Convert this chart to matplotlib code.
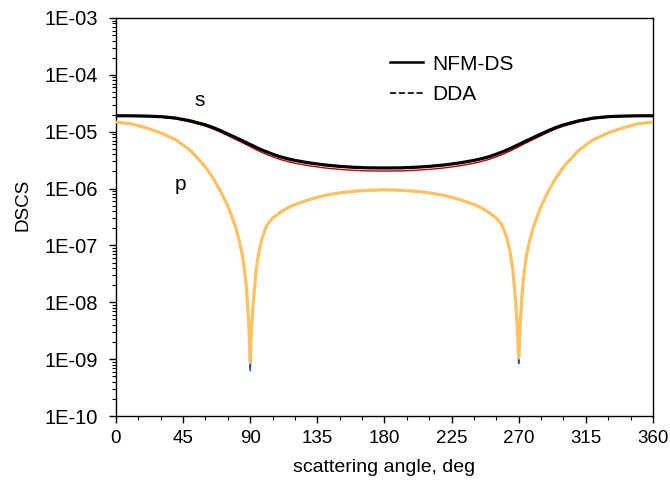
import numpy as np
import matplotlib
matplotlib.use('Agg')
import matplotlib.pyplot as plt
import matplotlib.ticker as mtick
from matplotlib.lines import Line2D

plt.rcParams['font.family'] = ['Liberation Sans', 'DejaVu Sans']

# scattering angle grid (deg), denser near the p minima
angle = [0, 10, 20, 30, 40, 50, 60, 65, 70, 75, 80, 83, 85, 87, 88, 89, 89.5, 90, 90.5, 91,
         92, 94, 96, 98, 100, 102, 105, 110, 115, 120, 130, 140, 150, 160, 170, 180,
         190, 200, 210, 220, 230, 240, 245, 250, 255, 258, 260, 262, 264, 266, 268, 269,
         269.5, 270, 270.5, 271, 272, 273, 275, 277, 280, 285, 290, 295, 300, 310, 320,
         330, 340, 350, 360]

# DSCS, stored as log10 values
log_s_nfm = [-4.72, -4.72, -4.725, -4.735, -4.76, -4.81, -4.88, -4.925, -4.98, -5.04, -5.10,
             -5.137, -5.162, -5.187, -5.20, -5.212, -5.218, -5.225, -5.231, -5.237, -5.25,
             -5.275, -5.30, -5.322, -5.345, -5.365, -5.395, -5.44, -5.475, -5.505, -5.55,
             -5.585, -5.61, -5.627, -5.636, -5.638,
             -5.636, -5.627, -5.61, -5.585, -5.55, -5.505, -5.475, -5.44, -5.395, -5.365,
             -5.345, -5.322, -5.30, -5.275, -5.25, -5.237, -5.231, -5.225, -5.218, -5.212,
             -5.20, -5.187, -5.162, -5.137, -5.10, -5.04, -4.98, -4.925, -4.88, -4.81, -4.76,
             -4.735, -4.725, -4.72, -4.72]

log_s_dda = [-4.727, -4.727, -4.733, -4.745, -4.773, -4.828, -4.902, -4.95, -5.007, -5.07,
             -5.133, -5.171, -5.197, -5.223, -5.237, -5.25, -5.256, -5.263, -5.27, -5.276,
             -5.29, -5.316, -5.342, -5.365, -5.389, -5.41, -5.441, -5.487, -5.523, -5.555,
             -5.601, -5.637, -5.663, -5.68, -5.69, -5.692,
             -5.69, -5.68, -5.663, -5.637, -5.601, -5.555, -5.523, -5.487, -5.441, -5.41,
             -5.389, -5.365, -5.342, -5.316, -5.29, -5.276, -5.27, -5.263, -5.256, -5.25,
             -5.237, -5.223, -5.197, -5.171, -5.133, -5.07, -5.007, -4.95, -4.902, -4.828,
             -4.773, -4.745, -4.733, -4.727, -4.727]

log_p_nfm = [-4.83, -4.86, -4.93, -5.02, -5.14, -5.33, -5.62, -5.81, -6.04, -6.31, -6.66,
             -6.95, -7.20, -7.62, -7.95, -8.38, -8.68, -9.05, -8.70, -8.42, -8.0, -7.42,
             -7.08, -6.87, -6.72, -6.61, -6.52, -6.42, -6.34, -6.28, -6.19, -6.12, -6.075,
             -6.045, -6.028, -6.022,
             -6.028, -6.045, -6.075, -6.12, -6.19, -6.28, -6.34, -6.42, -6.52, -6.61, -6.72,
             -6.87, -7.08, -7.42, -8.0, -8.42, -8.70, -8.98, -8.68, -8.38, -7.95, -7.62,
             -7.20, -6.95, -6.66, -6.31, -6.04, -5.81, -5.62, -5.33, -5.14, -5.02, -4.93,
             -4.86, -4.83]

log_p_dda = [-4.835, -4.865, -4.935, -5.025, -5.145, -5.335, -5.625, -5.815, -6.045, -6.315,
             -6.665, -6.955, -7.205, -7.625, -7.955, -8.39, -8.70, -9.20, -8.72, -8.43, -8.01,
             -7.425, -7.085, -6.875, -6.725, -6.615, -6.525, -6.425, -6.345, -6.285, -6.195,
             -6.125, -6.08, -6.05, -6.033, -6.027,
             -6.033, -6.05, -6.08, -6.125, -6.195, -6.285, -6.345, -6.425, -6.525, -6.615,
             -6.725, -6.875, -7.085, -7.425, -8.01, -8.43, -8.72, -9.10, -8.70, -8.39, -7.955,
             -7.625, -7.205, -6.955, -6.665, -6.315, -6.045, -5.815, -5.625, -5.335, -5.145,
             -5.025, -4.935, -4.865, -4.835]

fig = plt.figure(figsize=(6.7, 4.86), dpi=100)
ax = fig.add_axes([0.1731, 0.144, 0.8015, 0.819])

ax.plot(angle, np.power(10.0, log_p_dda), color='#1f4fd0', lw=1.2, ls='--', zorder=2)
ax.plot(angle, np.power(10.0, log_p_nfm), color='#ffc060', lw=2.3, zorder=3)
ax.plot(angle, np.power(10.0, log_s_dda), color='#c00000', lw=1.0, zorder=4)
ax.plot(angle, np.power(10.0, log_s_nfm), color='black', lw=2.3, zorder=5)

ax.set_yscale('log')
ax.set_xlim(0, 360)
ax.set_ylim(1e-10, 1e-3)
ax.set_xticks(range(0, 361, 45))
ax.xaxis.set_minor_locator(mtick.MultipleLocator(15))
ax.yaxis.set_major_locator(mtick.LogLocator(base=10, numticks=20))
ax.yaxis.set_minor_locator(mtick.LogLocator(base=10, subs=np.arange(2, 10), numticks=20))
ax.yaxis.set_minor_formatter(mtick.NullFormatter())
ax.yaxis.set_major_formatter(mtick.FuncFormatter(lambda v, _: f'1E-{int(round(-np.log10(v))):02d}'))

ax.tick_params(which='major', direction='out', length=5, width=1, top=False, right=False)
ax.tick_params(which='minor', direction='out', length=3, width=0.8, top=False, right=False)
ax.tick_params(axis='x', which='major', labelsize=13.5, pad=5)
ax.tick_params(axis='y', which='major', labelsize=14.5, pad=8)
for sp in ax.spines.values():
    sp.set_linewidth(1)

ax.set_xlabel('scattering angle, deg', fontsize=14, labelpad=9)
ax.set_ylabel('DSCS', fontsize=13.5)
ax.yaxis.set_label_coords(-0.158, 0.53)

ax.text(56, 3.6e-5, 's', fontsize=15, ha='center', va='center')
ax.text(43, 1.2e-6, 'p', fontsize=15, ha='center', va='center')

handles = [Line2D([], [], color='black', lw=1.8),
           Line2D([], [], color='black', lw=1.2, ls='--')]
ax.legend(handles, ['NFM-DS', 'DDA'], loc='upper left', bbox_to_anchor=(0.475, 0.955),
          frameon=False, fontsize=15, handlelength=1.6, handletextpad=0.45, labelspacing=0.55)

fig.savefig('out.png', dpi=100)
